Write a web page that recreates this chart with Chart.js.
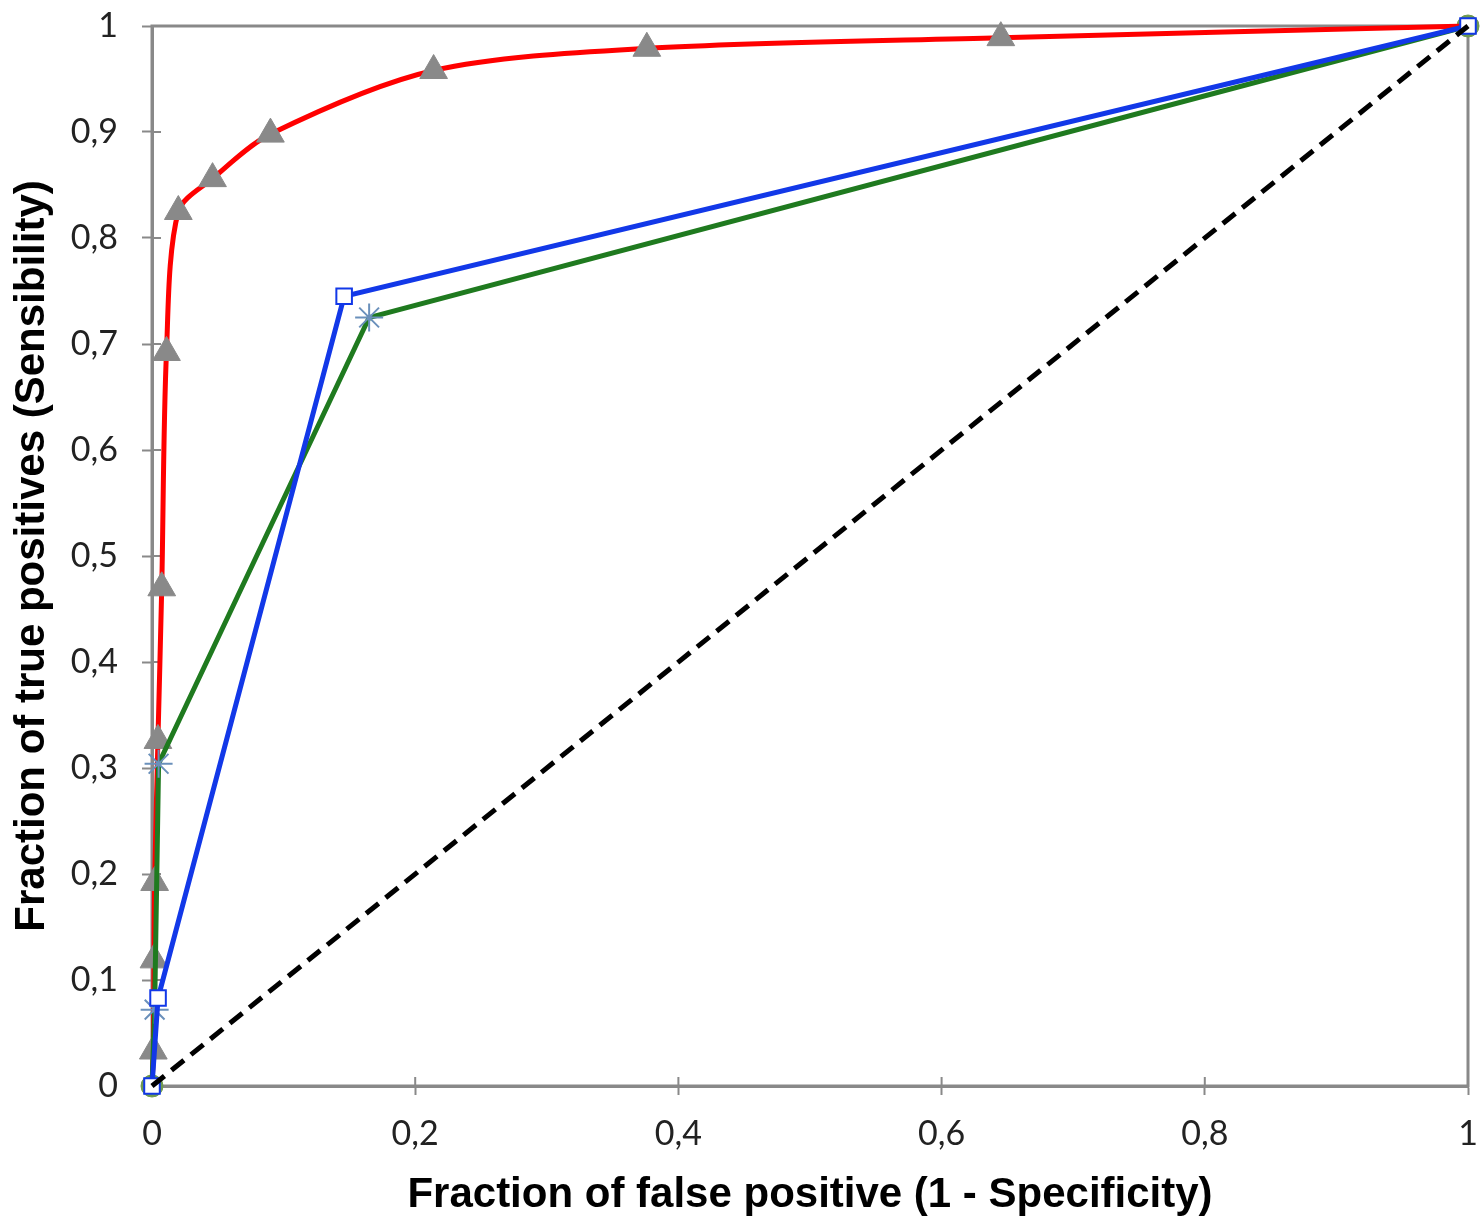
<!DOCTYPE html>
<html>
<head>
<meta charset="utf-8">
<script src="https://cdn.jsdelivr.net/npm/chart.js@4"></script>
<style>
  body { margin: 0; background: #fff; }
  #wrap { width: 1482px; height: 1219px; }
</style>
</head>
<body>
<div id="wrap"><canvas id="rocChart" width="1482" height="1219"></canvas></div>
<script>
// ROC curves, values
const redX = [0, 0.001, 0.0015, 0.002, 0.0045, 0.0074, 0.011, 0.020, 0.046, 0.090, 0.214, 0.376, 0.645, 1];
const redY = [0, 0.033, 0.119, 0.192, 0.326, 0.470, 0.692, 0.825, 0.856, 0.898, 0.958, 0.979, 0.989, 1];

const greenX = [0, 0.002, 0.005, 0.165, 1];
const greenY = [0, 0.072, 0.304, 0.725, 1];

const blueX = [0, 0.0046, 0.146, 1];
const blueY = [0, 0.083, 0.745, 1];

const diagX = [0, 1];
const diagY = [0, 1];

const xTickLabels = ["0", "0,2", "0,4", "0,6", "0,8", "1"];
const yTickLabels = ["0", "0,1", "0,2", "0,3", "0,4", "0,5", "0,6", "0,7", "0,8", "0,9", "1"];

const corCinza = "#898989";

function pontos(xs, ys) {
  return xs.map((x, i) => ({ x: x, y: ys[i] }));
}

// no marker on the first and last point (0,0) and (1,1)
function semPontas(r) {
  return (c) => (c.dataIndex === 0 || c.dataIndex === c.dataset.data.length - 1 ? 0 : r);
}

// box round the plot area + inner half of the crossing tick marks
const moldura = {
  id: "moldura",
  beforeDatasetsDraw(chart) {
    const { ctx, chartArea: a, scales } = chart;
    ctx.save();
    ctx.strokeStyle = corCinza;
    ctx.lineWidth = 3;
    ctx.strokeRect(a.left, a.top, a.right - a.left, a.bottom - a.top);
    ctx.lineWidth = 2;
    ctx.beginPath();
    scales.x.ticks.forEach((t) => {
      const px = scales.x.getPixelForValue(t.value);
      ctx.moveTo(px, a.bottom);
      ctx.lineTo(px, a.bottom - 9);
    });
    scales.y.ticks.forEach((t) => {
      const py = scales.y.getPixelForValue(t.value);
      ctx.moveTo(a.left, py);
      ctx.lineTo(a.left + 9, py);
    });
    ctx.stroke();
    ctx.restore();
  },
};

const ctx = document.getElementById("rocChart").getContext("2d");
new Chart(ctx, {
  type: "scatter",
  data: {
    datasets: [
      {
        label: "Random",
        data: pontos(diagX, diagY),
        showLine: true,
        borderColor: "#000000",
        borderWidth: 5,
        borderDash: [16, 9],
        pointRadius: 0,
        clip: false,
        order: 1,
      },
      {
        label: "Blue",
        data: pontos(blueX, blueY),
        showLine: true,
        borderColor: "#1238e8",
        borderWidth: 5,
        pointStyle: "rect",
        pointRadius: 11,
        pointBackgroundColor: "#ffffff",
        pointBorderColor: "#1238e8",
        pointBorderWidth: 2,
        clip: false,
        order: 2,
      },
      {
        label: "Green",
        data: pontos(greenX, greenY),
        showLine: true,
        borderColor: "#1f7a1f",
        borderWidth: 5,
        pointStyle: "star",
        pointRadius: semPontas(14),
        pointBorderColor: "#6a90bb",
        pointBorderWidth: 2,
        clip: false,
        order: 3,
      },
      {
        label: "Red",
        data: pontos(redX, redY),
        showLine: true,
        tension: 0.3,
        borderColor: "#ff0000",
        borderWidth: 5,
        pointStyle: "triangle",
        pointRadius: semPontas(16),
        pointBackgroundColor: corCinza,
        pointBorderColor: corCinza,
        pointBorderWidth: 1,
        clip: false,
        order: 4,
      },
      {
        label: "Ends",
        data: pontos(diagX, diagY),
        showLine: false,
        pointStyle: "circle",
        pointRadius: 11,
        pointBackgroundColor: "#6f9a4f",
        pointBorderColor: "#6f9a4f",
        clip: false,
        order: 5,
      },
    ],
  },
  options: {
    responsive: false,
    animation: false,
    layout: { autoPadding: false, padding: { top: 26, right: 14, left: 0, bottom: 0 } },
    plugins: {
      legend: { display: false },
      tooltip: { enabled: false },
    },
    scales: {
      x: {
        type: "linear",
        min: 0,
        max: 1,
        afterFit: (s) => { s.height = 133; s.paddingLeft = 0; s.paddingRight = 0; },
        ticks: {
          stepSize: 0.2,
          padding: 19,
          color: "#222",
          font: { family: "Lato", size: 34 },
          callback: (v, i) => xTickLabels[i],
        },
        grid: {
          drawOnChartArea: false,
          drawTicks: true,
          tickLength: 9,
          tickColor: corCinza,
          tickWidth: 2,
        },
        border: { color: corCinza, width: 3 },
        title: {
          display: true,
          text: "Fraction of false positive (1 - Specificity)",
          color: "#000",
          font: { family: "Liberation Sans", size: 42, weight: "bold", lineHeight: 1.1 },
          padding: { top: 0, bottom: 0 },
        },
      },
      y: {
        type: "linear",
        min: 0,
        max: 1,
        afterFit: (s) => { s.width = 152; s.paddingTop = 0; s.paddingBottom = 0; },
        ticks: {
          stepSize: 0.1,
          padding: 24,
          color: "#222",
          font: { family: "Lato", size: 34 },
          callback: (v, i) => yTickLabels[i],
        },
        grid: {
          drawOnChartArea: false,
          drawTicks: true,
          tickLength: 10,
          tickColor: corCinza,
          tickWidth: 2,
        },
        border: { color: corCinza, width: 3 },
        title: {
          display: true,
          text: "Fraction of true positives (Sensibility)",
          color: "#000",
          font: { family: "Liberation Sans", size: 42, weight: "bold" },
          padding: { top: 7, bottom: 0 },
        },
      },
    },
  },
  plugins: [moldura],
});
</script>
</body>
</html>
